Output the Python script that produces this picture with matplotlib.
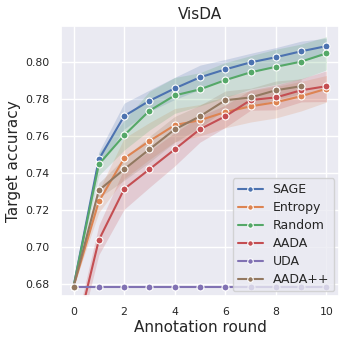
import numpy as np
import matplotlib
matplotlib.use("Agg")
import matplotlib.pyplot as plt
import seaborn as sns

# annotation rounds
rounds = list(range(11))

# mean target accuracy per method
sage = [0.6786, 0.7475, 0.7709, 0.7792, 0.7859, 0.7919, 0.7962, 0.8000, 0.8028, 0.8060, 0.8088]
entropy = [0.6786, 0.7247, 0.7480, 0.7574, 0.7660, 0.7687, 0.7731, 0.7762, 0.7784, 0.7817, 0.7857]
random_ = [0.6786, 0.7448, 0.7605, 0.7738, 0.7821, 0.7854, 0.7904, 0.7946, 0.7976, 0.8004, 0.8049]
aada = [0.6470, 0.7038, 0.7314, 0.7421, 0.7529, 0.7638, 0.7708, 0.7796, 0.7810, 0.7849, 0.7871]
uda = [0.6786] * 11
aada_pp = [0.6786, 0.7307, 0.7421, 0.7529, 0.7637, 0.7708, 0.7795, 0.7810, 0.7849, 0.7871, np.nan]

# half width of the shaded confidence band
sage_hw = [0.0, 0.004, 0.007, 0.0058, 0.006, 0.0066, 0.0054, 0.0049, 0.0052, 0.0055, 0.0043]
entropy_hw = [0.0, 0.006, 0.011, 0.010, 0.009, 0.0085, 0.0085, 0.0085, 0.0085, 0.008, 0.0072]
random_hw = [0.0, 0.006, 0.008, 0.0105, 0.0097, 0.009, 0.0095, 0.009, 0.0095, 0.0095, 0.009]
aada_hw = [0.006, 0.008, 0.011, 0.0098, 0.009, 0.007, 0.006, 0.0055, 0.0067, 0.0063, 0.0083]
uda_hw = [0.0] * 11
aada_pp_hw = [0.0, 0.004, 0.006, 0.007, 0.007, 0.006, 0.005, 0.005, 0.005, 0.004, np.nan]

names = ["SAGE", "Entropy", "Random", "AADA", "UDA", "AADA++"]
means = [sage, entropy, random_, aada, uda, aada_pp]
widths = [sage_hw, entropy_hw, random_hw, aada_hw, uda_hw, aada_pp_hw]

sns.set_theme(style="darkgrid")
colors = sns.color_palette("deep")[:6]

fig = plt.figure(figsize=(3.46, 3.42), dpi=100)
ax = fig.add_axes([0.176, 0.1345, 0.804, 0.7895])

x = np.array(rounds)
for name, m, hw, c in zip(names, means, widths, colors):
    m = np.array(m, dtype=float)
    hw = np.array(hw, dtype=float)
    if np.any(hw > 0):
        ax.fill_between(x, m - hw, m + hw, color=c, alpha=0.2, linewidth=0)
    ax.plot(x, m, color=c, marker="o", markersize=5, markeredgecolor="white",
            markeredgewidth=0.8, linewidth=1.5, label=name)

ax.set_ylim(0.6735, 0.8197)
ax.set_xticks([0, 2, 4, 6, 8, 10])
ax.set_yticks([0.68, 0.70, 0.72, 0.74, 0.76, 0.78, 0.80])
ax.set_yticklabels(["0.68", "0.70", "0.72", "0.74", "0.76", "0.78", "0.80"])
ax.tick_params(labelsize=7.8, pad=2)
ax.set_title("VisDA", fontsize=11, pad=5)
ax.set_xlabel("Annotation round", fontsize=11, labelpad=2)
ax.set_ylabel("Target accuracy", fontsize=11, labelpad=3)

ax.legend(loc="lower right", fontsize=9, handlelength=2.0, borderaxespad=0.4,
          labelspacing=0.4, markerscale=0.8)

fig.savefig("out.png", dpi=100)
